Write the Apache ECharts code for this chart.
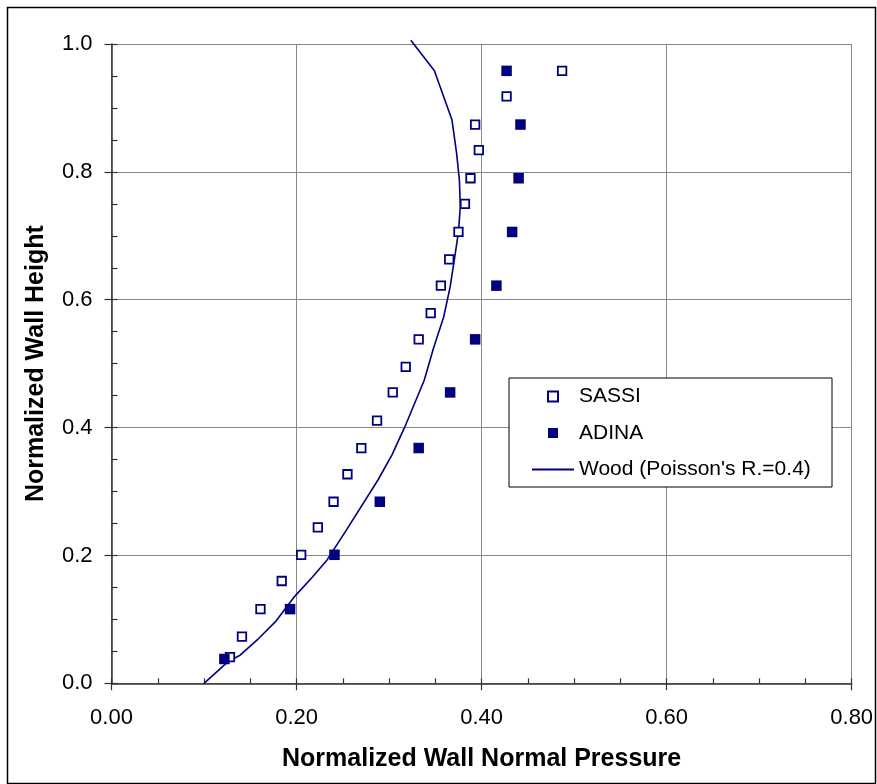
<!DOCTYPE html>
<html><head><meta charset="utf-8">
<script src="https://cdn.jsdelivr.net/npm/echarts@6/dist/echarts.min.js"></script>
<style>html,body{margin:0;padding:0;background:#fff}#c{width:877px;height:784px}</style>
</head><body><div id="c"></div>
<script>
// SASSI (open squares)
const sassiX = [0.487,0.427,0.393,0.397,0.388,0.382,0.375,0.365,0.356,0.345,0.332,0.318,0.304,0.287,0.270,0.255,0.240,0.223,0.205,0.184,0.161,0.141,0.128];
const sassiY = [0.958,0.918,0.874,0.834,0.790,0.750,0.706,0.663,0.622,0.579,0.538,0.495,0.455,0.411,0.368,0.327,0.284,0.244,0.201,0.160,0.116,0.073,0.041];
// ADINA (filled squares)
const adinaX = [0.427,0.442,0.440,0.433,0.416,0.393,0.366,0.332,0.290,0.241,0.193,0.122];
const adinaY = [0.958,0.874,0.790,0.706,0.622,0.538,0.455,0.368,0.284,0.201,0.116,0.038];
// Wood (Poisson's R.=0.4) curve
const woodX = [0.100,0.126,0.139,0.159,0.177,0.198,0.217,0.233,0.254,0.288,0.303,0.317,0.338,0.348,0.359,0.366,0.371,0.375,0.377,0.376,0.373,0.368,0.349,0.3235];
const woodY = [0.000,0.034,0.044,0.070,0.096,0.136,0.166,0.193,0.240,0.318,0.357,0.401,0.474,0.524,0.573,0.620,0.667,0.706,0.746,0.787,0.829,0.881,0.958,1.006];
const xTicks = ['0.00','0.20','0.40','0.60','0.80'];
const yTicks = ['0.0','0.2','0.4','0.6','0.8','1.0'];
const names = ['SASSI','ADINA',"Wood (Poisson's R.=0.4)"];

const FONT = "'Liberation Sans', Arial, sans-serif";
const NAVY = '#000080';
const zip = (a,b) => a.map((v,i)=>[v,b[i]]);
const SQUARE = 'path://M0,0H10V10H0Z';

const chart = echarts.init(document.getElementById('c'));
chart.setOption({
  animation: false,
  backgroundColor: '#fff',
  grid: {left: 111.5, right: 25.3, top: 44, bottom: 100.7, containLabel: false, outerBoundsMode: 'none'},
  xAxis: [{
    type: 'value', min: 0, max: 0.8, interval: 0.2,
    axisLine: {show: true, onZero: false, lineStyle: {color: '#333', width: 1.5}},
    axisTick: {show: true, inside: false, length: 7, lineStyle: {color: '#333', width: 1.2}},
    axisLabel: {margin: 24, fontSize: 22, color: '#000', fontFamily: FONT,
      formatter: v => xTicks[Math.round(v/0.2)]},
    splitLine: {show: true, lineStyle: {color: '#888', width: 1}},
    name: 'Normalized Wall Normal Pressure', nameLocation: 'middle', nameGap: 63,
    nameTextStyle: {fontSize: 25, fontWeight: 'bold', color: '#000', fontFamily: FONT}
  },{
    type: 'value', min: 0, max: 0.8, interval: 0.05, position: 'bottom',
    axisLine: {show: false}, axisLabel: {show: false}, splitLine: {show: false},
    axisTick: {show: true, inside: true, length: 5, lineStyle: {color: '#333', width: 1.2}}
  }],
  yAxis: [{
    type: 'value', min: 0, max: 1, interval: 0.2,
    axisLine: {show: true, onZero: false, lineStyle: {color: '#333', width: 1.5}},
    axisTick: {show: true, inside: false, length: 7, lineStyle: {color: '#333', width: 1.2}},
    axisLabel: {margin: 19, fontSize: 22, color: '#000', fontFamily: FONT,
      formatter: v => yTicks[Math.round(v/0.2)]},
    splitLine: {show: true, lineStyle: {color: '#888', width: 1}},
    name: 'Normalized Wall Height', nameLocation: 'middle', nameGap: 63,
    nameTextStyle: {fontSize: 25, fontWeight: 'bold', color: '#000', fontFamily: FONT}
  },{
    type: 'value', min: 0, max: 1, interval: 0.05, position: 'left',
    axisLine: {show: false}, axisLabel: {show: false}, splitLine: {show: false},
    axisTick: {show: true, inside: true, length: 6, lineStyle: {color: '#333', width: 1.2}}
  }],
  legend: {
    orient: 'vertical', left: 531, top: 386, padding: 0, itemGap: 15.5,
    itemWidth: 42, itemHeight: 10, symbolKeepAspect: true, z: 5,
    textStyle: {fontSize: 21, color: '#000', fontFamily: FONT, lineHeight: 20},
    data: [
      {name: names[0], icon: SQUARE},
      {name: names[1], icon: SQUARE},
      {name: names[2], itemStyle: {opacity: 0}}
    ]
  },
  graphic: [
    {type: 'rect', z: 3, shape: {x: 509, y: 378, width: 323, height: 109},
     style: {fill: '#fff', stroke: '#000', lineWidth: 1}},
    {type: 'rect', z: 10, shape: {x: 7.5, y: 7.5, width: 868, height: 776},
     style: {fill: 'none', stroke: '#000', lineWidth: 1.5}}
  ],
  series: [
    {name: names[2], type: 'line', data: zip(woodX, woodY), showSymbol: false, symbol: 'none',
     clip: false, lineStyle: {color: NAVY, width: 1.6}, itemStyle: {color: NAVY}, z: 2},
    {name: names[0], type: 'scatter', data: zip(sassiX, sassiY), symbol: 'rect', symbolSize: 8.5,
     itemStyle: {color: '#fff', borderColor: NAVY, borderWidth: 1.8, opacity: 1}, z: 3},
    {name: names[1], type: 'scatter', data: zip(adinaX, adinaY), symbol: 'rect', symbolSize: 10.5,
     itemStyle: {color: NAVY, opacity: 1}, z: 3}
  ]
});
</script></body></html>
